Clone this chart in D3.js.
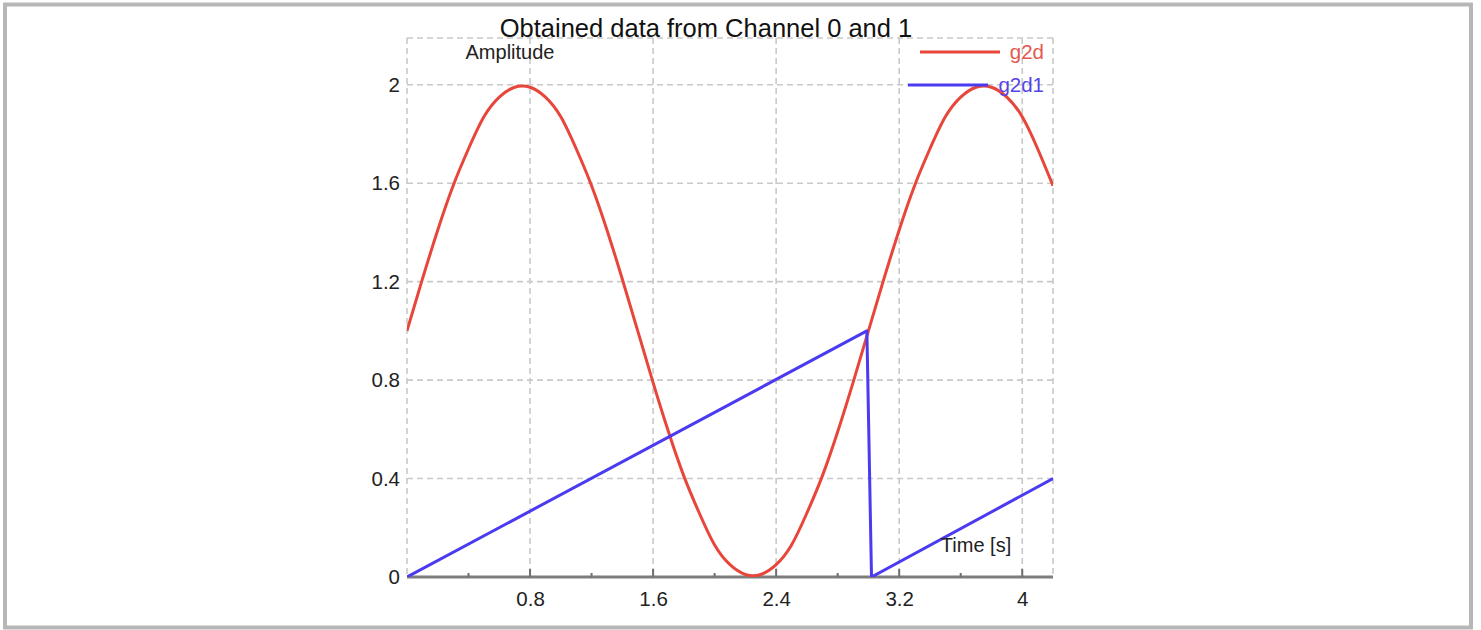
<!DOCTYPE html>
<html>
<head>
<meta charset="utf-8">
<script src="https://cdn.jsdelivr.net/npm/d3@7"></script>
<style>
  body { margin: 0; background: #fff; }
  text { font-family: "Liberation Sans", Arial, sans-serif; }
</style>
</head>
<body>
<div id="chart"></div>
<script>
// channel 0 (g2d) and channel 1 (g2d1), time in seconds
const timeG2d = [0, 0.1, 0.2, 0.3, 0.4, 0.5, 0.6, 0.7, 0.8, 0.9, 1.0, 1.1, 1.2, 1.3, 1.4,
  1.5, 1.6, 1.7, 1.8, 1.9, 2.0, 2.1, 2.2, 2.3, 2.4, 2.5, 2.6, 2.7, 2.8, 2.9,
  3.0, 3.1, 3.2, 3.3, 3.4, 3.5, 3.6, 3.7, 3.8, 3.9, 4.0, 4.1, 4.2];
const valuesG2d = [1.00, 1.21, 1.41, 1.59, 1.74, 1.87, 1.95, 1.99, 1.99, 1.95, 1.87, 1.74, 1.59, 1.41, 1.21,
  1.00, 0.79, 0.59, 0.41, 0.26, 0.13, 0.05, 0.01, 0.01, 0.05, 0.13, 0.26, 0.41, 0.59, 0.79,
  1.00, 1.21, 1.41, 1.59, 1.74, 1.87, 1.95, 1.99, 1.99, 1.95, 1.87, 1.74, 1.59];

const timeG2d1 = [0, 2.99, 3.02, 4.2];
const valuesG2d1 = [0, 1.0, 0, 0.40];

const xTicks = [0.8, 1.6, 2.4, 3.2, 4];
const yTicks = [0, 0.4, 0.8, 1.2, 1.6, 2];
const seriesNames = ["g2d", "g2d1"];

function draw() {
  const dimensions = { width: 1481, height: 630 };
  const plot = { left: 407, right: 1053, top: 38, bottom: 577 };

  const red = "#e8463b";
  const blue = "#4a3af0";

  const x = d3.scaleLinear().domain([0, 4.2]).range([plot.left, plot.right]);
  const y = d3.scaleLinear().domain([0, 2.19]).range([plot.bottom, plot.top]);

  const svg = d3.select("#chart")
    .append("svg")
    .attr("width", dimensions.width)
    .attr("height", dimensions.height);

  // outer frame
  svg.append("rect")
    .attr("x", 5).attr("y", 4.5)
    .attr("width", 1466).attr("height", 623)
    .attr("fill", "none")
    .attr("stroke", "#b7b7b7")
    .attr("stroke-width", 4);

  svg.append("defs").append("clipPath").attr("id", "clip")
    .append("rect")
    .attr("x", plot.left).attr("y", plot.top - 5)
    .attr("width", plot.right - plot.left)
    .attr("height", plot.bottom - plot.top + 5);

  // grid
  const grid = svg.append("g")
    .attr("stroke", "#c9c9c9")
    .attr("stroke-width", 1.6)
    .attr("stroke-dasharray", "6,4");

  grid.selectAll("line.v")
    .data([0, ...xTicks, 4.2])
    .join("line")
    .attr("class", "v")
    .attr("x1", d => x(d)).attr("x2", d => x(d))
    .attr("y1", plot.top).attr("y2", plot.bottom);

  grid.selectAll("line.h")
    .data([...yTicks.slice(1), 2.19])
    .join("line")
    .attr("class", "h")
    .attr("x1", plot.left).attr("x2", plot.right)
    .attr("y1", d => y(d)).attr("y2", d => y(d));

  // bottom axis
  const xAxis = svg.append("g")
    .attr("transform", `translate(0,${plot.bottom})`)
    .call(d3.axisBottom(x).tickValues(xTicks).tickSize(0).tickPadding(14).tickFormat(d3.format("")));
  xAxis.select(".domain").remove();
  xAxis.selectAll("text")
    .attr("font-size", 20.5)
    .attr("fill", "#222")
    .style("font-family", "'Liberation Sans', Arial, sans-serif");

  svg.append("line")
    .attr("x1", plot.left).attr("x2", plot.right)
    .attr("y1", plot.bottom).attr("y2", plot.bottom)
    .attr("stroke", "#7d7d7d")
    .attr("stroke-width", 3);

  const minor = d3.range(1, 11).map(i => i * 0.4);
  svg.append("g").selectAll("line")
    .data(minor)
    .join("line")
    .attr("x1", d => x(d)).attr("x2", d => x(d))
    .attr("y1", plot.bottom)
    .attr("y2", (d, i) => plot.bottom - (i % 2 === 1 ? 8 : 4))
    .attr("stroke", "#6f6f6f")
    .attr("stroke-width", 2);

  // left axis labels
  const yAxis = svg.append("g")
    .attr("transform", `translate(${plot.left},0)`)
    .call(d3.axisLeft(y).tickValues(yTicks).tickSize(0).tickPadding(7).tickFormat(d3.format("")));
  yAxis.select(".domain").remove();
  yAxis.selectAll("text")
    .attr("font-size", 20.5)
    .attr("fill", "#222")
    .style("font-family", "'Liberation Sans', Arial, sans-serif");

  // lines
  const lines = svg.append("g").attr("clip-path", "url(#clip)");

  lines.append("path")
    .datum(timeG2d.map((t, i) => [t, valuesG2d[i]]))
    .attr("fill", "none")
    .attr("stroke", red)
    .attr("stroke-width", 3)
    .attr("d", d3.line().x(d => x(d[0])).y(d => y(d[1])).curve(d3.curveNatural));

  lines.append("path")
    .datum(timeG2d1.map((t, i) => [t, valuesG2d1[i]]))
    .attr("fill", "none")
    .attr("stroke", blue)
    .attr("stroke-width", 3)
    .attr("stroke-linejoin", "round")
    .attr("d", d3.line().x(d => x(d[0])).y(d => y(d[1])));

  // titles
  svg.append("text")
    .attr("x", 706).attr("y", 37)
    .attr("text-anchor", "middle")
    .attr("font-size", 25.5)
    .attr("fill", "#111")
    .text("Obtained data from Channel 0 and 1");

  svg.append("text")
    .attr("x", 510).attr("y", 59)
    .attr("text-anchor", "middle")
    .attr("font-size", 20)
    .attr("fill", "#222")
    .text("Amplitude");

  svg.append("text")
    .attr("x", 976).attr("y", 552)
    .attr("text-anchor", "middle")
    .attr("font-size", 20)
    .attr("fill", "#222")
    .text("Time [s]");

  // legend
  const legendColors = [red, blue];
  const legendText = ["#e5584c", "#5545e6"];
  const legendY = [52, 85];
  const lineStart = [920, 908];
  const legend = svg.append("g").selectAll("g")
    .data(seriesNames)
    .join("g");
  legend.append("line")
    .attr("x1", (d, i) => lineStart[i]).attr("x2", (d, i) => lineStart[i] + 80)
    .attr("y1", (d, i) => legendY[i]).attr("y2", (d, i) => legendY[i])
    .attr("stroke", (d, i) => legendColors[i])
    .attr("stroke-width", 3);
  legend.append("text")
    .attr("x", 1044)
    .attr("y", (d, i) => legendY[i] + 7)
    .attr("text-anchor", "end")
    .attr("font-size", 20.5)
    .attr("fill", (d, i) => legendText[i])
    .text(d => d);
}
draw();
</script>
</body>
</html>
